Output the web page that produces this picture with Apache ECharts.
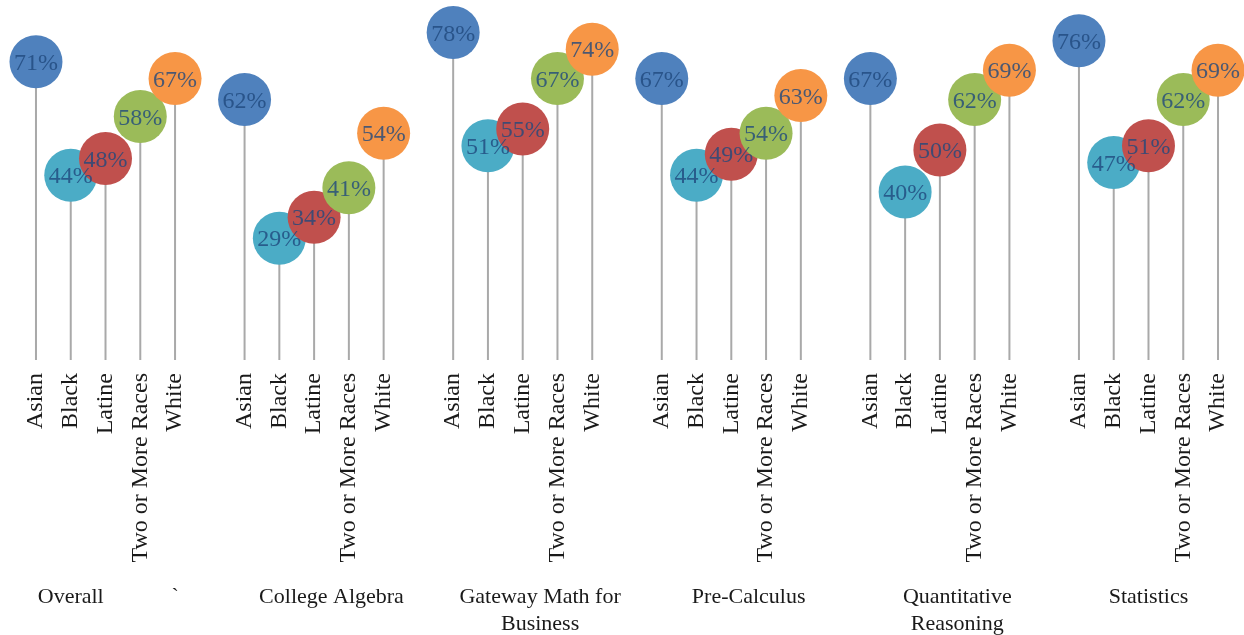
<!DOCTYPE html>
<html>
<head>
<meta charset="utf-8">
<script src="https://cdn.jsdelivr.net/npm/echarts@6/dist/echarts.min.js"></script>
<style>
  html, body { margin: 0; padding: 0; background: #fff; }
  #chart { width: 1244px; height: 635px; }
</style>
</head>
<body>
<div id="chart"></div>
<script>
// Success rates (%) by course and student group
const races = ['Asian', 'Black', 'Latine', 'Two or More Races', 'White'];
const courses = ['Overall', 'College Algebra', 'Gateway Math for\nBusiness', 'Pre-Calculus', 'Quantitative\nReasoning', 'Statistics'];
const asian    = [71, 62, 78, 67, 67, 76];
const black    = [44, 29, 51, 44, 40, 47];
const latine   = [48, 34, 55, 49, 50, 51];
const twoMore  = [58, 41, 67, 54, 62, 62];
const white    = [67, 54, 74, 63, 69, 69];
// group captions under the axis: [text, first slot, last slot]
const groupCaptions = [
  ['Overall', 0, 2],
  ['`', 3, 5],
  [courses[1], 6, 11],
  [courses[2], 12, 17],
  [courses[3], 18, 23],
  [courses[4], 24, 29],
  [courses[5], 30, 34]
];

const raceValues = [asian, black, latine, twoMore, white];
const raceColors = ['#4F81BD', '#4BACC6', '#C0504D', '#9BBB59', '#F79646'];
const FONT = '"Liberation Serif", "DejaVu Serif", serif';

// Category slots: five races per course, one empty slot between courses
const categories = [];
const slotRace = [];
const slotCourse = [];
courses.forEach((c, ci) => {
  races.forEach((r, ri) => { categories.push(r); slotRace.push(ri); slotCourse.push(ci); });
  if (ci < courses.length - 1) { categories.push(''); slotRace.push(-1); slotCourse.push(-1); }
});

const slotValue = categories.map((_, i) => slotRace[i] < 0 ? '-' : raceValues[slotRace[i]][slotCourse[i]]);

const circleSeries = races.map((r, ri) => ({
  name: r,
  type: 'scatter',
  symbol: 'circle',
  symbolSize: 53,
  z: 3 + ri,
  itemStyle: { color: raceColors[ri], opacity: 1 },
  data: categories.map((_, i) => slotRace[i] === ri ? slotValue[i] : '-'),
  label: { show: false },
  emphasis: { disabled: true }
}));

const chart = echarts.init(document.getElementById('chart'), null, { renderer: 'canvas' });

chart.setOption({
  animation: false,
  backgroundColor: '#ffffff',
  grid: { left: 18.6, right: 8.6, top: 24, bottom: 275, containLabel: false },
  xAxis: {
    type: 'category',
    data: categories,
    boundaryGap: true,
    axisLine: { show: false },
    axisTick: { show: false },
    axisLabel: {
      interval: 0,
      rotate: 90,
      margin: 13,
      fontFamily: FONT,
      fontSize: 24,
      color: '#1a1a1a'
    }
  },
  yAxis: {
    type: 'value',
    min: 0,
    max: 80,
    show: false,
    splitLine: { show: false }
  },
  series: [
    {
      name: 'stems',
      type: 'bar',
      barWidth: 2,
      z: 1,
      itemStyle: { color: '#A9A9A9' },
      data: slotValue,
      emphasis: { disabled: true }
    },
    ...circleSeries,
    {
      name: 'values',
      type: 'scatter',
      symbolSize: 2,
      z: 20,
      itemStyle: { color: 'rgba(0,0,0,0)' },
      data: slotValue,
      label: {
        show: true,
        position: 'inside',
        offset: [0, 2],
        formatter: p => p.value + '%',
        fontFamily: FONT,
        fontSize: 24,
        color: '#1F497D'
      },
      emphasis: { disabled: true }
    }
  ]
});

// Course captions placed between the slots they span
const graphics = groupCaptions.map(([text, a, b]) => {
  const xa = chart.convertToPixel({ xAxisIndex: 0 }, a);
  const xb = chart.convertToPixel({ xAxisIndex: 0 }, b);
  return {
    type: 'text',
    x: (xa + xb) / 2,
    y: 584,
    style: {
      text: text,
      align: 'center',
      verticalAlign: 'top',
      fontFamily: FONT,
      fontSize: 22,
      lineHeight: 27,
      fill: '#1a1a1a'
    }
  };
});
chart.setOption({ graphic: graphics });
</script>
</body>
</html>
